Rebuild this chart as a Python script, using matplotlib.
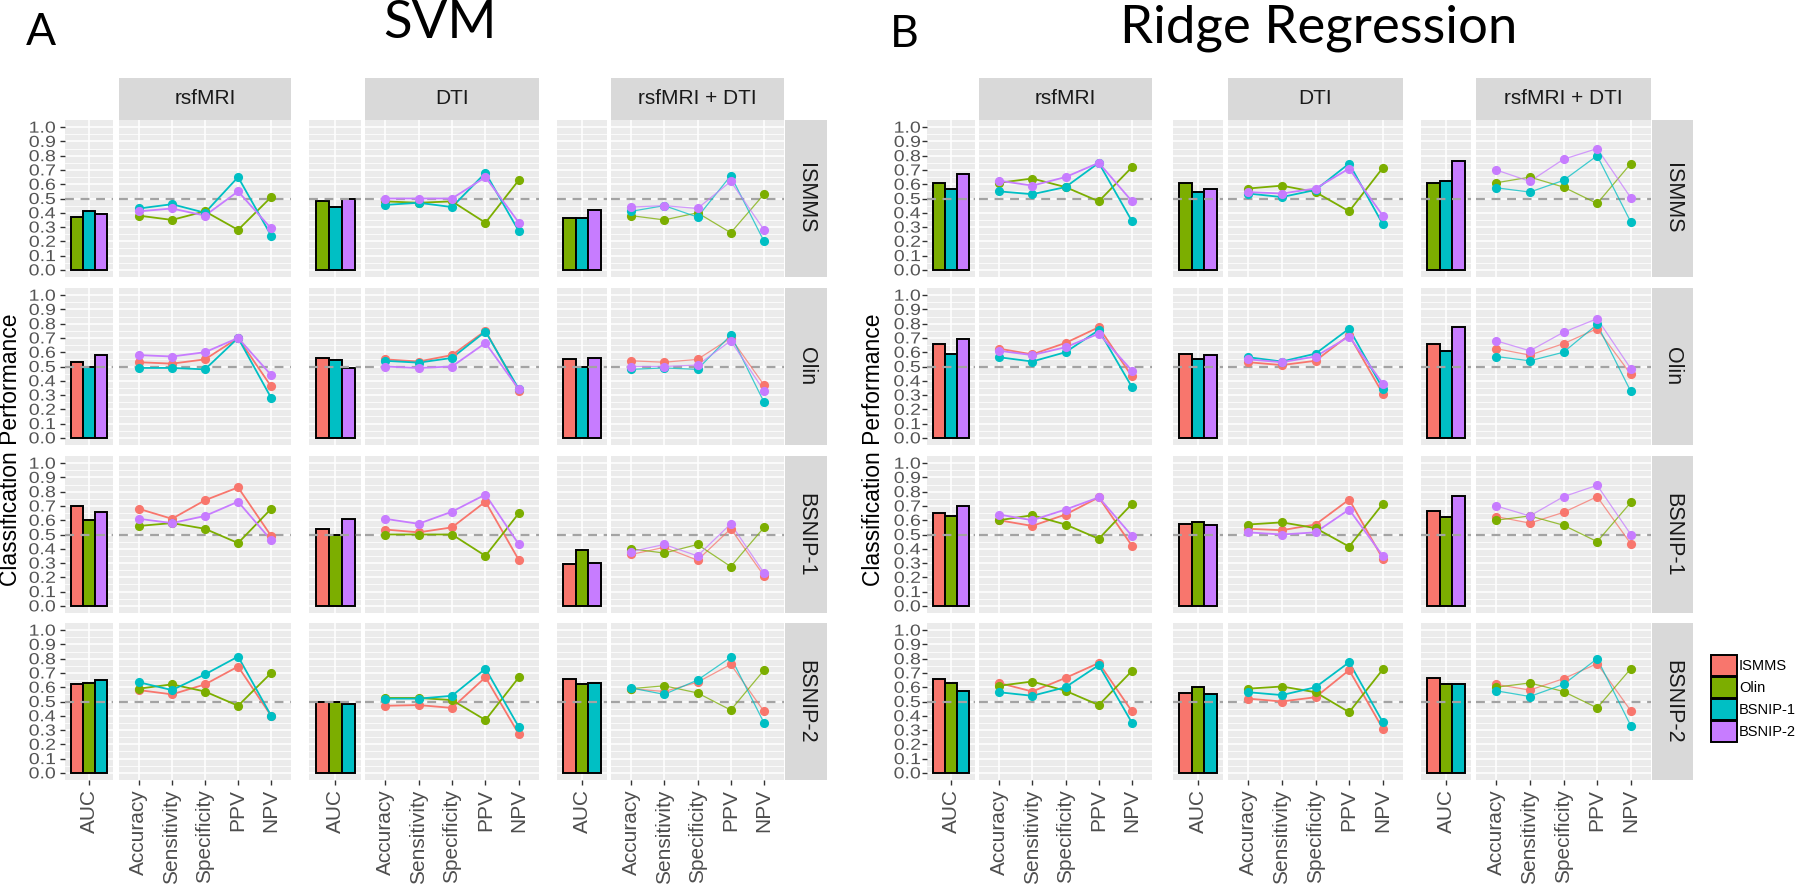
import numpy as np
import matplotlib
matplotlib.use("Agg")
import matplotlib.pyplot as plt
from matplotlib.textpath import TextPath
from matplotlib.patches import PathPatch, Patch
from matplotlib.font_manager import FontProperties
from matplotlib.transforms import Affine2D

plt.rcParams['font.family'] = ['Liberation Sans', 'DejaVu Sans']

# ---------------- data ----------------
SITES = ["ISMMS", "Olin", "BSNIP-1", "BSNIP-2"]
METRICS = ["Accuracy", "Sensitivity", "Specificity", "PPV", "NPV"]
MODALITIES = ["rsfMRI", "DTI", "rsfMRI + DTI"]
COLORS = {"ISMMS": "#F8766D", "Olin": "#7CAE00", "BSNIP-1": "#00BFC4", "BSNIP-2": "#C77CFF"}

# AUC: training site -> AUC on the other three sites (in SITES order)
SVM_RSFMRI_AUC = {"ISMMS": [0.37, 0.41, 0.39], "Olin": [0.53, 0.50, 0.58],
                  "BSNIP-1": [0.70, 0.60, 0.66], "BSNIP-2": [0.62, 0.63, 0.65]}
SVM_DTI_AUC = {"ISMMS": [0.48, 0.44, 0.50], "Olin": [0.56, 0.547, 0.488],
               "BSNIP-1": [0.54, 0.50, 0.61], "BSNIP-2": [0.495, 0.495, 0.48]}
SVM_COMBO_AUC = {"ISMMS": [0.36, 0.36, 0.42], "Olin": [0.552, 0.493, 0.56],
                 "BSNIP-1": [0.29, 0.39, 0.30], "BSNIP-2": [0.66, 0.62, 0.63]}
RIDGE_RSFMRI_AUC = {"ISMMS": [0.61, 0.57, 0.674], "Olin": [0.66, 0.59, 0.69],
                    "BSNIP-1": [0.65, 0.63, 0.70], "BSNIP-2": [0.655, 0.63, 0.575]}
RIDGE_DTI_AUC = {"ISMMS": [0.61, 0.545, 0.565], "Olin": [0.59, 0.55, 0.58],
                 "BSNIP-1": [0.575, 0.585, 0.57], "BSNIP-2": [0.56, 0.605, 0.55]}
RIDGE_COMBO_AUC = {"ISMMS": [0.61, 0.62, 0.76], "Olin": [0.66, 0.61, 0.78],
                   "BSNIP-1": [0.665, 0.62, 0.77], "BSNIP-2": [0.665, 0.62, 0.62]}

# metrics: training site -> test site -> [Accuracy, Sensitivity, Specificity, PPV, NPV]
SVM_RSFMRI = {
    "ISMMS": {"Olin": [0.38, 0.35, 0.41, 0.28, 0.51], "BSNIP-1": [0.43, 0.46, 0.40, 0.65, 0.24],
              "BSNIP-2": [0.41, 0.43, 0.38, 0.55, 0.29]},
    "Olin": {"ISMMS": [0.53, 0.52, 0.55, 0.70, 0.36], "BSNIP-1": [0.49, 0.49, 0.48, 0.70, 0.28],
             "BSNIP-2": [0.58, 0.57, 0.60, 0.70, 0.44]},
    "BSNIP-1": {"ISMMS": [0.68, 0.61, 0.74, 0.83, 0.49], "Olin": [0.56, 0.58, 0.54, 0.44, 0.68],
                "BSNIP-2": [0.61, 0.58, 0.63, 0.73, 0.46]},
    "BSNIP-2": {"ISMMS": [0.58, 0.55, 0.62, 0.745, 0.40], "Olin": [0.59, 0.62, 0.57, 0.47, 0.70],
                "BSNIP-1": [0.635, 0.58, 0.69, 0.815, 0.40]},
}
SVM_DTI = {
    "ISMMS": {"Olin": [0.48, 0.47, 0.48, 0.33, 0.63], "BSNIP-1": [0.455, 0.47, 0.44, 0.68, 0.27],
              "BSNIP-2": [0.50, 0.50, 0.50, 0.65, 0.33]},
    "Olin": {"ISMMS": [0.55, 0.535, 0.58, 0.75, 0.33], "BSNIP-1": [0.54, 0.527, 0.56, 0.745, 0.34],
             "BSNIP-2": [0.50, 0.49, 0.50, 0.665, 0.34]},
    "BSNIP-1": {"ISMMS": [0.535, 0.515, 0.55, 0.73, 0.32], "Olin": [0.50, 0.50, 0.50, 0.35, 0.65],
                "BSNIP-2": [0.61, 0.575, 0.66, 0.78, 0.43]},
    "BSNIP-2": {"ISMMS": [0.47, 0.475, 0.455, 0.67, 0.27], "Olin": [0.525, 0.525, 0.51, 0.37, 0.67],
                "BSNIP-1": [0.52, 0.52, 0.54, 0.73, 0.32]},
}
SVM_COMBO = {
    "ISMMS": {"Olin": [0.38, 0.35, 0.40, 0.26, 0.53], "BSNIP-1": [0.41, 0.45, 0.37, 0.66, 0.20],
              "BSNIP-2": [0.44, 0.45, 0.43, 0.62, 0.28]},
    "Olin": {"ISMMS": [0.54, 0.53, 0.55, 0.70, 0.37], "BSNIP-1": [0.48, 0.49, 0.48, 0.72, 0.25],
             "BSNIP-2": [0.50, 0.50, 0.51, 0.68, 0.33]},
    "BSNIP-1": {"ISMMS": [0.36, 0.41, 0.32, 0.54, 0.21], "Olin": [0.40, 0.37, 0.43, 0.275, 0.55],
                "BSNIP-2": [0.38, 0.43, 0.35, 0.575, 0.23]},
    "BSNIP-2": {"ISMMS": [0.59, 0.57, 0.635, 0.76, 0.43], "Olin": [0.59, 0.61, 0.56, 0.44, 0.72],
                "BSNIP-1": [0.595, 0.55, 0.65, 0.81, 0.35]},
}
RIDGE_RSFMRI = {
    "ISMMS": {"Olin": [0.61, 0.64, 0.58, 0.48, 0.72], "BSNIP-1": [0.55, 0.53, 0.58, 0.75, 0.34],
              "BSNIP-2": [0.625, 0.59, 0.65, 0.75, 0.48]},
    "Olin": {"ISMMS": [0.625, 0.585, 0.665, 0.775, 0.43], "BSNIP-1": [0.565, 0.535, 0.60, 0.755, 0.355],
             "BSNIP-2": [0.61, 0.58, 0.635, 0.73, 0.47]},
    "BSNIP-1": {"ISMMS": [0.60, 0.56, 0.64, 0.76, 0.42], "Olin": [0.60, 0.635, 0.57, 0.47, 0.715],
                "BSNIP-2": [0.64, 0.60, 0.675, 0.76, 0.49]},
    "BSNIP-2": {"ISMMS": [0.63, 0.57, 0.665, 0.77, 0.43], "Olin": [0.61, 0.64, 0.575, 0.475, 0.715],
                "BSNIP-1": [0.565, 0.54, 0.60, 0.755, 0.35]},
}
RIDGE_DTI = {
    "ISMMS": {"Olin": [0.57, 0.59, 0.545, 0.41, 0.715], "BSNIP-1": [0.535, 0.51, 0.56, 0.745, 0.32],
              "BSNIP-2": [0.545, 0.535, 0.57, 0.71, 0.38]},
    "Olin": {"ISMMS": [0.53, 0.51, 0.54, 0.72, 0.31], "BSNIP-1": [0.565, 0.535, 0.59, 0.765, 0.345],
             "BSNIP-2": [0.55, 0.53, 0.57, 0.71, 0.38]},
    "BSNIP-1": {"ISMMS": [0.54, 0.53, 0.57, 0.745, 0.33], "Olin": [0.57, 0.585, 0.545, 0.415, 0.715],
                "BSNIP-2": [0.515, 0.50, 0.515, 0.675, 0.35]},
    "BSNIP-2": {"ISMMS": [0.52, 0.50, 0.53, 0.72, 0.31], "Olin": [0.59, 0.605, 0.565, 0.425, 0.725],
                "BSNIP-1": [0.565, 0.545, 0.60, 0.775, 0.355]},
}
RIDGE_COMBO = {
    "ISMMS": {"Olin": [0.61, 0.65, 0.58, 0.465, 0.745], "BSNIP-1": [0.575, 0.545, 0.627, 0.80, 0.335],
              "BSNIP-2": [0.70, 0.62, 0.775, 0.85, 0.505]},
    "Olin": {"ISMMS": [0.625, 0.58, 0.66, 0.765, 0.445], "BSNIP-1": [0.57, 0.54, 0.60, 0.795, 0.325],
             "BSNIP-2": [0.68, 0.61, 0.74, 0.835, 0.485]},
    "BSNIP-1": {"ISMMS": [0.625, 0.58, 0.655, 0.765, 0.435], "Olin": [0.60, 0.63, 0.565, 0.45, 0.725],
                "BSNIP-2": [0.70, 0.63, 0.765, 0.845, 0.50]},
    "BSNIP-2": {"ISMMS": [0.62, 0.58, 0.66, 0.765, 0.435], "Olin": [0.60, 0.63, 0.57, 0.455, 0.73],
                "BSNIP-1": [0.575, 0.535, 0.62, 0.80, 0.33]},
}

Y_TICKS = np.round(np.arange(0, 1.01, 0.1), 1)

# ---------------- layout (pixels, y downward) ----------------
W, H = 1800, 889
fig = plt.figure(figsize=(W / 100, H / 100), dpi=100)

ROW_TOPS = [120, 288, 456, 623]
ROW_H = 157
HEADER_Y = (78, 120)
COLS_A = [((65, 113), (119, 291)), ((309, 361), (365, 539)), ((557, 607), (611, 784))]
STRIP_A = (785, 827)
COLS_B = [((927, 975), (979, 1152)), ((1173, 1223), (1228, 1403)), ((1421, 1471), (1476, 1651))]
STRIP_B = (1652, 1693)

BG = "#EBEBEB"
STRIP_BG = "#D9D9D9"
FP_TICK = FontProperties(family="Liberation Sans")


def ax_px(x0, x1, y0, y1):
    return fig.add_axes([x0 / W, 1 - y1 / H, (x1 - x0) / W, (y1 - y0) / H])


def blank(ax, color):
    ax.set_facecolor(color)
    ax.set_xticks([])
    ax.set_yticks([])
    for s in ax.spines.values():
        s.set_visible(False)


def style_panel(ax, xlim, xticks):
    ax.set_facecolor(BG)
    ax.set_xlim(*xlim)
    ax.set_ylim(-0.05, 1.05)
    ax.set_axisbelow(True)
    ax.set_yticks(Y_TICKS)
    ax.set_yticks(np.arange(0.05, 1.0, 0.1), minor=True)
    ax.set_xticks(xticks)
    ax.grid(which="major", color="white", lw=1.1)
    ax.grid(which="minor", axis="y", color="white", lw=0.55)
    for s in ax.spines.values():
        s.set_visible(False)
    ax.tick_params(axis="y", which="both", left=False, labelleft=False)
    ax.tick_params(axis="x", which="both", bottom=False, labelbottom=False)


def stretched_ylabels(ax, x_right):
    for v in Y_TICKS:
        _, yd = ax.transData.transform((1.0, v))
        tp = TextPath((0, 0), f"{v:.1f}", size=16, prop=FP_TICK)
        bb = tp.get_extents()
        sx = 1.22
        tr = (Affine2D().translate(-bb.x0, -bb.y0).scale(sx, 1.0)
              .translate(x_right - bb.width * sx, yd - bb.height / 2))
        fig.add_artist(PathPatch(tp, transform=tr, fc="#555555", ec="none"))


def draw_block(cols, strip, auc_tables, metric_tables, ytick_right, ytitle_x):
    for ci, ((bx0, bx1), (lx0, lx1)) in enumerate(cols):
        hax = ax_px(lx0, lx1, HEADER_Y[0], HEADER_Y[1])
        blank(hax, STRIP_BG)
        hax.text(0.5, 0.5, MODALITIES[ci], ha="center", va="center", fontsize=15,
                 color="#1A1A1A", transform=hax.transAxes)
        lw_line = 1.3 if ci < 2 else 0.9
        a_line = 1.0 if ci < 2 else 0.75
        for ri, train in enumerate(SITES):
            top = ROW_TOPS[ri]
            bot = top + ROW_H
            tests = [s for s in SITES if s != train]

            bax = ax_px(bx0, bx1, top, bot)
            style_panel(bax, (0.4, 1.6), [1])
            xs = 1 + np.array([-0.3, 0.0, 0.3])
            bax.bar(xs, auc_tables[ci][train], width=0.3,
                    color=[COLORS[t] for t in tests], edgecolor="black",
                    linewidth=1.4, zorder=2)
            bax.axhline(0.5, color="#A3A3A3", lw=1.6, ls=(0, (4, 3)), zorder=2.5)

            lax = ax_px(lx0, lx1, top, bot)
            style_panel(lax, (0.4, 5.6), range(1, 6))
            lax.axhline(0.5, color="#A3A3A3", lw=1.6, ls=(0, (4, 3)), zorder=2.5)
            for t in tests:
                lax.plot(range(1, 6), metric_tables[ci][train][t], color=COLORS[t],
                         lw=lw_line, alpha=a_line, zorder=3)
                lax.plot(range(1, 6), metric_tables[ci][train][t], ls="none", marker="o",
                         ms=6.6, mew=0, color=COLORS[t], zorder=4)

            if ci == 0:
                bax.tick_params(axis="y", which="major", left=True, length=3.6,
                                width=1.0, color="#333333")
                stretched_ylabels(bax, ytick_right)

            if ri == len(SITES) - 1:
                for a, labels in ((bax, ["AUC"]), (lax, METRICS)):
                    a.tick_params(axis="x", which="major", bottom=True, labelbottom=True,
                                  length=3.6, width=1.0, color="#333333", pad=3)
                    a.set_xticklabels(labels, rotation=90, fontsize=15, color="#4D4D4D")

            if ci == len(cols) - 1:
                sax = ax_px(strip[0], strip[1], top, bot)
                blank(sax, STRIP_BG)
                sax.text(0.5, 0.5, train, ha="center", va="center", rotation=270,
                         fontsize=15.5, color="#1A1A1A", transform=sax.transAxes)

    fig.text(ytitle_x / W, 1 - 450 / H, "Classification Performance", rotation=90,
             ha="center", va="center", fontsize=16.5, color="black")


draw_block(COLS_A, STRIP_A, [SVM_RSFMRI_AUC, SVM_DTI_AUC, SVM_COMBO_AUC],
           [SVM_RSFMRI, SVM_DTI, SVM_COMBO], 55, 11)
draw_block(COLS_B, STRIP_B, [RIDGE_RSFMRI_AUC, RIDGE_DTI_AUC, RIDGE_COMBO_AUC],
           [RIDGE_RSFMRI, RIDGE_DTI, RIDGE_COMBO], 920, 874)

# titles
fig.text(440 / W, 1 - 38 / H, "SVM", ha="center", va="baseline", fontsize=38, family="Lato")
fig.text(1319 / W, 1 - 42 / H, "Ridge Regression", ha="center", va="baseline", fontsize=38,
         family="Lato")
fig.text(26 / W, 1 - 45 / H, "A", ha="left", va="baseline", fontsize=32, family="Lato")
fig.text(890 / W, 1 - 47 / H, "B", ha="left", va="baseline", fontsize=32, family="Lato")

# legend
handles = [Patch(facecolor=COLORS[s], edgecolor="black", linewidth=1.4) for s in SITES]
fig.legend(handles, SITES, loc="upper left", bbox_to_anchor=(1711 / W, 1 - 655 / H),
           frameon=False, fontsize=10.5, handlelength=1.8, handleheight=1.85,
           handletextpad=0.12, labelspacing=0.05, borderaxespad=0, borderpad=0)

fig.savefig("out.png", dpi=100)
